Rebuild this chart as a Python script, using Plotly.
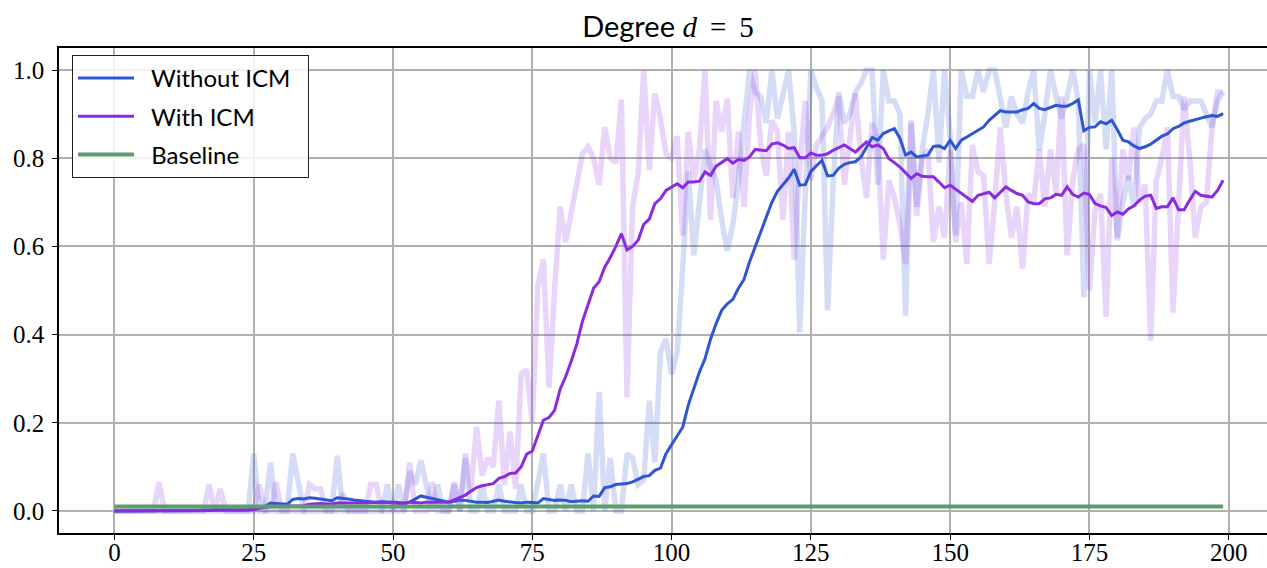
import plotly.graph_objects as go

steps = list(range(200))

# smoothed success rate, Without ICM
smooth_without = [
    0, 0, 0, 0, 0, 0, 0, 0, 0, 0,
    0.001, 0.001, 0.001, 0.001, 0.001, 0.001, 0.002, 0.002, 0.002, 0.002,
    0.002, 0.002, 0.002, 0.002, 0.002, 0.008, 0.008, 0.010, 0.018, 0.017,
    0.016, 0.015, 0.026, 0.028, 0.027, 0.030, 0.029, 0.027, 0.025, 0.023,
    0.030, 0.029, 0.027, 0.025, 0.023, 0.022, 0.021, 0.020, 0.021, 0.021,
    0.020, 0.019, 0.018, 0.020, 0.028, 0.034, 0.031, 0.028, 0.025, 0.022,
    0.020, 0.022, 0.025, 0.024, 0.022, 0.020, 0.020, 0.019, 0.022, 0.025,
    0.022, 0.020, 0.019, 0.018, 0.020, 0.019, 0.018, 0.028, 0.026, 0.024,
    0.025, 0.024, 0.021, 0.022, 0.023, 0.022, 0.034, 0.033, 0.053, 0.055,
    0.060, 0.061, 0.062, 0.066, 0.072, 0.078, 0.080, 0.092, 0.097, 0.130,
    0.150, 0.170, 0.190, 0.240, 0.280, 0.315, 0.345, 0.390, 0.425, 0.455,
    0.470, 0.480, 0.505, 0.525, 0.565, 0.600, 0.635, 0.665, 0.700, 0.725,
    0.740, 0.755, 0.775, 0.739, 0.740, 0.770, 0.783, 0.795, 0.760, 0.761,
    0.777, 0.786, 0.790, 0.792, 0.803, 0.826, 0.847, 0.841, 0.856, 0.862,
    0.867, 0.845, 0.807, 0.814, 0.803, 0.805, 0.807, 0.827, 0.828, 0.822,
    0.841, 0.822, 0.841, 0.848, 0.856, 0.864, 0.871, 0.886, 0.897, 0.908,
    0.905, 0.905, 0.905, 0.910, 0.913, 0.924, 0.913, 0.910, 0.915, 0.920,
    0.918, 0.918, 0.924, 0.932, 0.862, 0.870, 0.871, 0.883, 0.878, 0.886,
    0.865, 0.841, 0.837, 0.828, 0.822, 0.826, 0.832, 0.840, 0.850, 0.855,
    0.867, 0.872, 0.880, 0.884, 0.888, 0.891, 0.894, 0.897, 0.895, 0.901,
]

# smoothed success rate, With ICM
smooth_with = [
    0, 0, 0, 0, 0, 0, 0, 0, 0, 0,
    0, 0, 0, 0, 0, 0, 0.001, 0.001, 0.002, 0.002,
    0.002, 0.002, 0.002, 0.002, 0.002, 0.003, 0.006, 0.008, 0.010, 0.012,
    0.011, 0.011, 0.012, 0.012, 0.012, 0.015, 0.016, 0.017, 0.016, 0.016,
    0.018, 0.018, 0.017, 0.017, 0.018, 0.018, 0.019, 0.020, 0.020, 0.019,
    0.018, 0.017, 0.016, 0.020, 0.019, 0.018, 0.020, 0.020, 0.019, 0.020,
    0.020, 0.025, 0.030, 0.036, 0.045, 0.053, 0.057, 0.059, 0.062, 0.074,
    0.078, 0.085, 0.086, 0.100, 0.129, 0.136, 0.170, 0.206, 0.212, 0.228,
    0.276, 0.305, 0.340, 0.379, 0.430, 0.465, 0.505, 0.520, 0.553, 0.575,
    0.600, 0.629, 0.592, 0.600, 0.614, 0.650, 0.662, 0.697, 0.708, 0.727,
    0.735, 0.742, 0.733, 0.746, 0.746, 0.748, 0.769, 0.761, 0.782, 0.790,
    0.799, 0.789, 0.797, 0.795, 0.803, 0.820, 0.818, 0.817, 0.832, 0.835,
    0.830, 0.822, 0.824, 0.801, 0.801, 0.812, 0.807, 0.807, 0.810, 0.818,
    0.824, 0.830, 0.822, 0.814, 0.826, 0.837, 0.826, 0.830, 0.822, 0.799,
    0.790, 0.780, 0.767, 0.754, 0.765, 0.759, 0.758, 0.758, 0.746, 0.733,
    0.739, 0.730, 0.720, 0.710, 0.702, 0.716, 0.720, 0.723, 0.710, 0.722,
    0.735, 0.727, 0.720, 0.716, 0.701, 0.697, 0.697, 0.708, 0.710, 0.718,
    0.716, 0.735, 0.718, 0.712, 0.721, 0.718, 0.697, 0.692, 0.688, 0.670,
    0.678, 0.673, 0.685, 0.692, 0.705, 0.714, 0.716, 0.686, 0.690, 0.690,
    0.710, 0.683, 0.683, 0.705, 0.725, 0.716, 0.714, 0.712, 0.727, 0.750,
]

# raw success rate, Without ICM
raw_without = [
    0, 0, 0, 0, 0, 0, 0, 0, 0, 0,
    0, 0, 0, 0, 0, 0, 0, 0, 0, 0,
    0, 0, 0, 0, 0, 0.13, 0, 0, 0.11, 0,
    0, 0, 0.13, 0.06, 0, 0, 0, 0, 0, 0,
    0.125, 0, 0, 0, 0, 0, 0, 0, 0, 0.06,
    0, 0.06, 0, 0.09, 0.06, 0.115, 0.06, 0, 0.06, 0,
    0, 0.06, 0, 0.12, 0, 0, 0.06, 0, 0, 0.06,
    0, 0, 0, 0.06, 0, 0, 0.06, 0.13, 0, 0,
    0.06, 0, 0.06, 0, 0, 0.13, 0, 0.27, 0, 0.12,
    0, 0, 0.13, 0.12, 0.06, 0.07, 0.25, 0.11, 0.36, 0.39,
    0.31, 0.36, 0.55, 0.77, 0.58, 0.70, 0.82, 0.78, 0.75, 0.66,
    0.59, 0.65, 0.75, 0.88, 1.0, 0.95, 0.94, 0.88, 1.0, 0.89,
    0.95, 1.0, 0.86, 0.405, 0.72, 1.0, 0.96, 0.93, 0.455, 0.74,
    0.95, 0.88, 0.90, 0.95, 0.97, 1.0, 1.0, 0.74, 1.0, 0.93,
    0.93, 0.90, 0.443, 0.88, 0.69, 0.82, 0.90, 1.0, 0.79, 1.0,
    0.85, 0.625, 1.0, 0.94, 0.94, 1.0, 0.95, 1.0, 1.0, 0.93,
    0.87, 0.94, 0.90, 0.88, 0.95, 1.0, 0.818, 0.90, 1.0, 0.94,
    0.89, 0.94, 1.0, 0.93, 0.485, 1.0, 0.88, 1.0, 0.82, 1.0,
    0.614, 0.70, 0.76, 0.69, 0.87, 0.89, 0.90, 0.93, 0.93, 1.0,
    0.94, 0.94, 0.91, 0.93, 0.93, 0.93, 0.90, 0.87, 0.93, 0.95,
]

# raw success rate, With ICM
raw_with = [
    0, 0, 0, 0, 0, 0, 0, 0, 0.065, 0,
    0, 0, 0, 0, 0, 0, 0, 0.06, 0, 0.05,
    0, 0, 0, 0, 0, 0, 0.06, 0, 0, 0.065,
    0, 0, 0, 0, 0, 0.06, 0.05, 0.05, 0, 0,
    0, 0.04, 0, 0, 0, 0, 0.06, 0.06, 0, 0,
    0, 0, 0, 0.11, 0, 0, 0, 0.065, 0, 0,
    0, 0.065, 0, 0.13, 0.05, 0.19, 0.08, 0.12, 0.10, 0.25,
    0.06, 0.18, 0.05, 0.31, 0.32, 0.20, 0.51, 0.57, 0.28, 0.50,
    0.69, 0.61, 0.68, 0.735, 0.81, 0.826, 0.80, 0.74, 0.87, 0.80,
    0.79, 0.933, 0.258, 0.69, 0.765, 1.0, 0.773, 0.947, 0.89, 0.81,
    0.80, 0.85, 0.625, 0.86, 0.75, 0.82, 1.0, 0.66, 0.93, 0.86,
    0.935, 0.71, 0.86, 0.69, 0.90, 1.0, 0.83, 0.76, 0.886, 0.86,
    0.66, 0.86, 0.57, 0.78, 0.93, 0.75, 0.83, 0.85, 0.87, 0.90,
    0.94, 0.74, 0.85, 0.947, 0.80, 0.71, 0.88, 0.84, 0.57, 0.75,
    0.71, 0.65, 0.56, 0.886, 0.67, 0.80, 0.82, 0.61, 0.69, 0.62,
    0.818, 0.61, 0.70, 0.56, 0.83, 0.77, 0.76, 0.56, 0.70, 0.87,
    0.72, 0.62, 0.69, 0.55, 0.72, 0.70, 0.82, 0.69, 0.82, 0.72,
    0.94, 0.58, 0.75, 0.82, 0.83, 0.50, 0.68, 0.72, 0.44, 0.80,
    0.62, 0.82, 0.75, 0.87, 0.70, 0.74, 0.386, 0.75, 0.80, 0.87,
    0.45, 0.70, 0.94, 0.80, 0.62, 0.69, 0.70, 0.87, 0.95, 0.95,
]

baseline_x = [0, 199]
baseline_y = [0.01, 0.01]

series_names = ["Without ICM", "With ICM", "Baseline"]
x_ticks = [0, 25, 50, 75, 100, 125, 150, 175, 200]
y_ticks = [0.0, 0.2, 0.4, 0.6, 0.8, 1.0]
y_tick_text = ["0.0", "0.2", "0.4", "0.6", "0.8", "1.0"]

BLUE = "#2f55d4"
PURPLE = "#8a2be2"
GREEN = "#5b9e6c"

pad = "\u00a0\u00a0"

fig = go.Figure()
fig.add_trace(go.Scatter(x=steps, y=raw_without, mode="lines",
                         line=dict(color="rgba(47,85,212,0.2)", width=5.5),
                         showlegend=False, hoverinfo="skip"))
fig.add_trace(go.Scatter(x=steps, y=raw_with, mode="lines",
                         line=dict(color="rgba(138,43,226,0.2)", width=5.5),
                         showlegend=False, hoverinfo="skip"))
fig.add_trace(go.Scatter(x=steps, y=smooth_without, mode="lines",
                         name=pad + series_names[0] + pad,
                         legendgroup="a", line=dict(color=BLUE, width=3)))
fig.add_trace(go.Scatter(x=steps, y=smooth_with, mode="lines",
                         name=pad + series_names[1] + pad,
                         legendgroup="b", line=dict(color=PURPLE, width=3)))
fig.add_trace(go.Scatter(x=baseline_x, y=baseline_y, mode="lines",
                         name=pad + series_names[2] + pad,
                         legendgroup="c", line=dict(color=GREEN, width=4)))

serif = "Liberation Serif"
sans = "Lato"

fig.update_layout(
    width=1267, height=568,
    margin=dict(l=59, r=0, t=48, b=35, autoexpand=False),
    paper_bgcolor="white", plot_bgcolor="white",
    title=dict(
        text="Degree <span style='font-family:Liberation Serif'><i>d</i>&#8201; = &#8201;5</span>",
        x=668 / 1267, xanchor="center",
        y=1 - 27 / 568, yanchor="middle", yref="container",
        font=dict(family=sans, size=29, color="black"),
    ),
    showlegend=True,
    legend=dict(
        x=(72 - 59) / 1208, y=1 - (55 - 48) / 485, xanchor="left", yanchor="top",
        bgcolor="rgba(255,255,255,0.85)", bordercolor="#222222", borderwidth=1,
        font=dict(family=sans, size=24, color="black"),
        itemwidth=56, tracegroupgap=4,
    ),
    xaxis=dict(
        range=[-9.95, (1267 - 114.5) / 5.571], tickvals=x_ticks,
        showgrid=True, gridcolor="#b0b0b0", gridwidth=1.5,
        showline=True, linecolor="black", linewidth=1.6, mirror=True,
        ticks="outside", ticklen=5, tickwidth=1.3, tickcolor="black",
        tickfont=dict(family=serif, size=25, color="black"),
        ticklabelstandoff=-9,
        zeroline=False, automargin=False,
    ),
    yaxis=dict(
        range=[-0.05, 1.05], tickvals=y_ticks, ticktext=y_tick_text,
        showgrid=True, gridcolor="#b0b0b0", gridwidth=1.5,
        showline=True, linecolor="black", linewidth=1.6, mirror=False,
        ticks="outside", ticklen=5, tickwidth=1.3, tickcolor="black",
        tickfont=dict(family=serif, size=25, color="black"),
        ticklabelstandoff=3,
        zeroline=False, automargin=False,
    ),
)

fig.write_html(
    "out.html",
    config={"displayModeBar": False},
    post_script="document.body.style.margin='0px';document.body.style.overflow='hidden';",
)
